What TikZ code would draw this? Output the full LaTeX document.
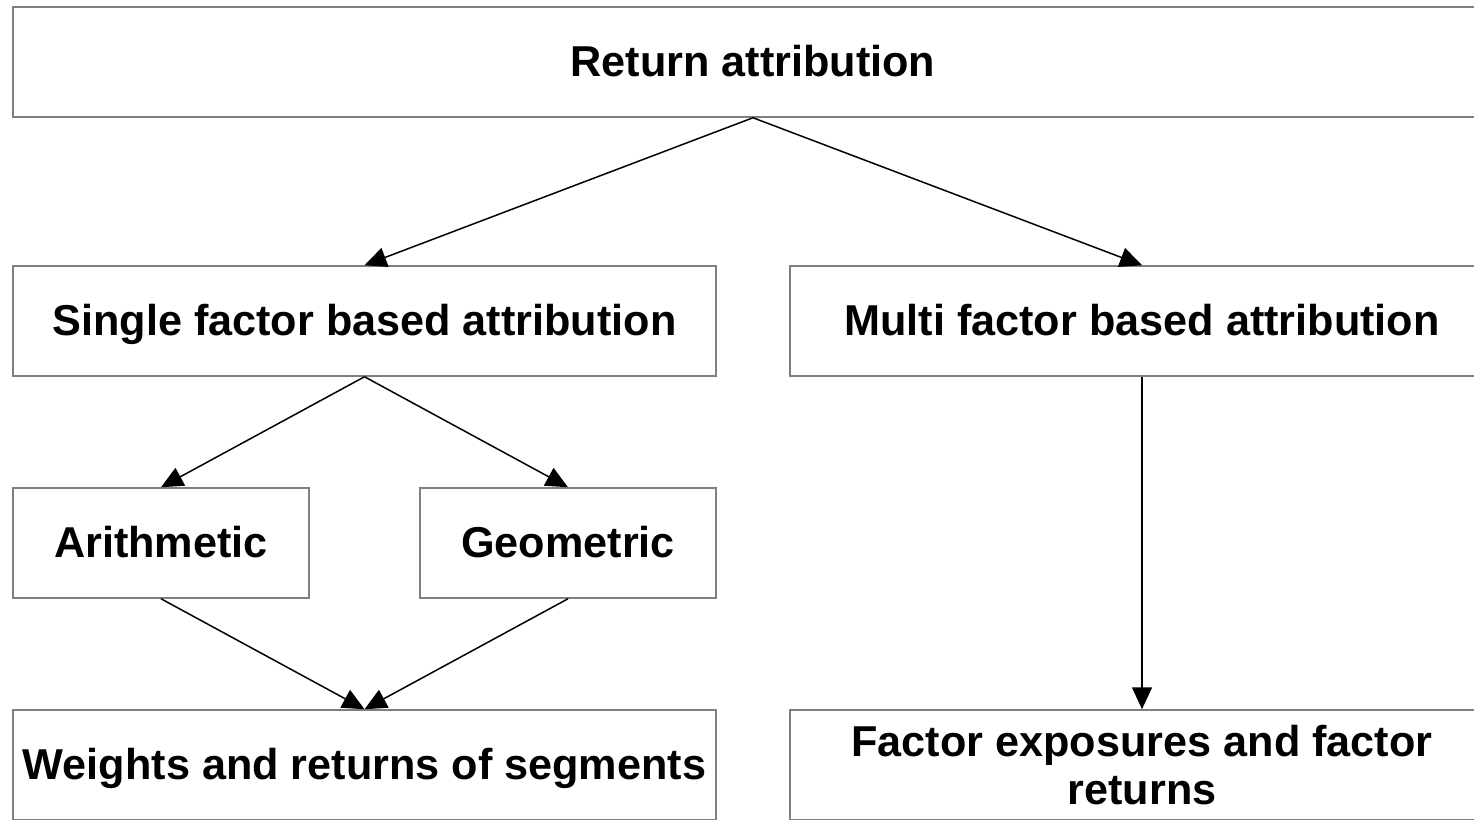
\documentclass[tikz,border=0pt]{standalone}
\usepackage{fontspec}
\setmainfont{Liberation Sans}
\usetikzlibrary{arrows.meta}
\definecolor{boxline}{HTML}{7F7F7F}
\begin{document}
\begin{tikzpicture}[x=1pt,y=-1pt,
  box/.style={draw=boxline,line width=1.5pt,inner sep=0pt,minimum height=110pt,
    font=\fontsize{43.2}{48}\selectfont\bfseries,align=center},
  oneline/.style={text height=36pt,text depth=7pt},
  link/.style={draw=black,line width=1.5pt,-{Triangle[length=22pt,width=20pt]}}]
\useasboundingbox (0,0) rectangle (1474,819);
\node[box,oneline,minimum width=1480pt] (top) at (753,62) {Return attribution};
\node[box,oneline,minimum width=703pt] (single) at (364.5,321) {Single factor based attribution};
\node[box,oneline,minimum width=704pt] (multi) at (1142,321) {Multi factor based attribution};
\node[box,oneline,minimum width=296pt] (arith) at (161,543) {Arithmetic};
\node[box,oneline,minimum width=296pt] (geom) at (568,543) {Geometric};
\node[box,oneline,minimum width=703pt] (weights) at (364.5,765) {Weights and returns of segments};
\node[box,minimum width=704pt] (factor) at (1142,765) {Factor exposures and factor\\returns};
\draw[link] (top.south) -- (single.north);
\draw[link] (top.south) -- (multi.north);
\draw[link] (single.south) -- (arith.north);
\draw[link] (single.south) -- (geom.north);
\draw[link] (arith.south) -- (weights.north);
\draw[link] (geom.south) -- (weights.north);
\draw[link] (multi.south) -- (factor.north);
\end{tikzpicture}
\end{document}
